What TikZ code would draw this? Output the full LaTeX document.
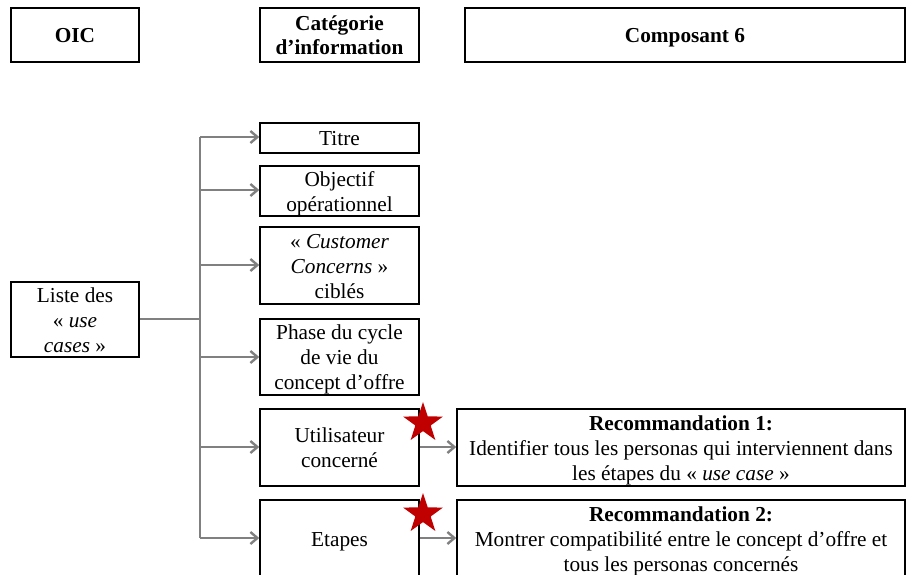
\documentclass[tikz,border=0pt]{standalone}
\usepackage{fontspec}
\setmainfont{Liberation Serif}
\usetikzlibrary{arrows.meta,shapes.geometric}
\definecolor{linegray}{RGB}{128,128,128}
\definecolor{starred}{RGB}{192,0,0}
\newcommand{\lowtxt}[1]{\raisebox{-2.5pt}[\height][\depth]{\begin{tabular}{@{}c@{}}#1\end{tabular}}}
\begin{document}
\begin{tikzpicture}[x=1pt,y=-1pt,
  box/.style={draw=black,line width=1.5pt,inner sep=0pt,align=center,
    font=\fontsize{21.3}{25}\selectfont},
  head/.style={box,font=\fontsize{21.3}{24}\selectfont\bfseries},
  line/.style={draw=linegray,line width=2.4pt},
  arr/.style={line,-{Straight Barb[length=7pt,width=12pt,line width=2.4pt]}},
  mark5/.style={star,star points=5,star point ratio=2.6,fill=starred,draw=none,
    minimum size=42pt,inner sep=0pt}]
\useasboundingbox (0,0) rectangle (906,574);
\clip (0,0) rectangle (906,574);
% headers
\node[head,minimum width=128pt,minimum height=54pt] (oic) at (75,35) {\lowtxt{OIC}};
\node[head,minimum width=159pt,minimum height=54pt] (cat) at (339.5,35) {\lowtxt{Catégorie\\d’information}};
\node[head,minimum width=440pt,minimum height=54pt] (comp) at (685,35) {\lowtxt{Composant 6}};
% left box
\node[box,minimum width=128pt,minimum height=75pt] (liste) at (75,319.5) {\lowtxt{Liste des\\« \textit{use}\\\textit{cases} »}};
% category boxes
\node[box,minimum width=159pt,minimum height=30pt] (titre) at (339.5,138) {\lowtxt{Titre}};
\node[box,minimum width=159pt,minimum height=46pt] (obj) at (339.5,191) {\lowtxt{Objectif\\opérationnel}};
\node[box,minimum width=159pt,minimum height=77pt] (cust) at (339.5,265.5) {\lowtxt{« \textit{Customer}\\\textit{Concerns} »\\ciblés}};
\node[box,minimum width=159pt,minimum height=76pt] (phase) at (339.5,357) {\lowtxt{Phase du cycle\\de vie du\\concept d’offre}};
\node[box,minimum width=159pt,minimum height=77pt] (util) at (339.5,447.5) {\lowtxt{Utilisateur\\concerné}};
\node[box,minimum width=159pt,minimum height=78pt] (etapes) at (339.5,539) {\lowtxt{Etapes}};
% recommendation boxes
\node[box,minimum width=448pt,minimum height=77pt] (rec1) at (681,447.5) {\lowtxt{\textbf{Recommandation 1:}\\Identifier tous les personas qui interviennent dans\\les étapes du « \textit{use case} »}};
\node[box,minimum width=448pt,minimum height=78pt] (rec2) at (681,539) {\lowtxt{\textbf{Recommandation 2:}\\Montrer compatibilité entre le concept d’offre et\\tous les personas concernés}};
% junctions
\coordinate (jl) at (200,319);
\coordinate (j1) at (200,137);
\coordinate (j2) at (200,190);
\coordinate (j3) at (200,265);
\coordinate (j4) at (200,357);
\coordinate (j5) at (200,447);
\coordinate (j6) at (200,538);
% connectors
\draw[line] (liste.east |- jl) -- (jl);
\draw[line] (j1) -- (j6);
\draw[arr] (j1) -- (j1 -| titre.west);
\draw[arr] (j2) -- (j2 -| obj.west);
\draw[arr] (j3) -- (j3 -| cust.west);
\draw[arr] (j4) -- (j4 -| phase.west);
\draw[arr] (j5) -- (j5 -| util.west);
\draw[arr] (j6) -- (j6 -| etapes.west);
\draw[arr] (util.east |- j5) -- (rec1.west |- j5);
\draw[arr] (etapes.east |- j6) -- (rec2.west |- j6);
% stars
\node[mark5] (s1) at (423,423) {};
\node[mark5] (s2) at (423,514) {};
\end{tikzpicture}
\end{document}
